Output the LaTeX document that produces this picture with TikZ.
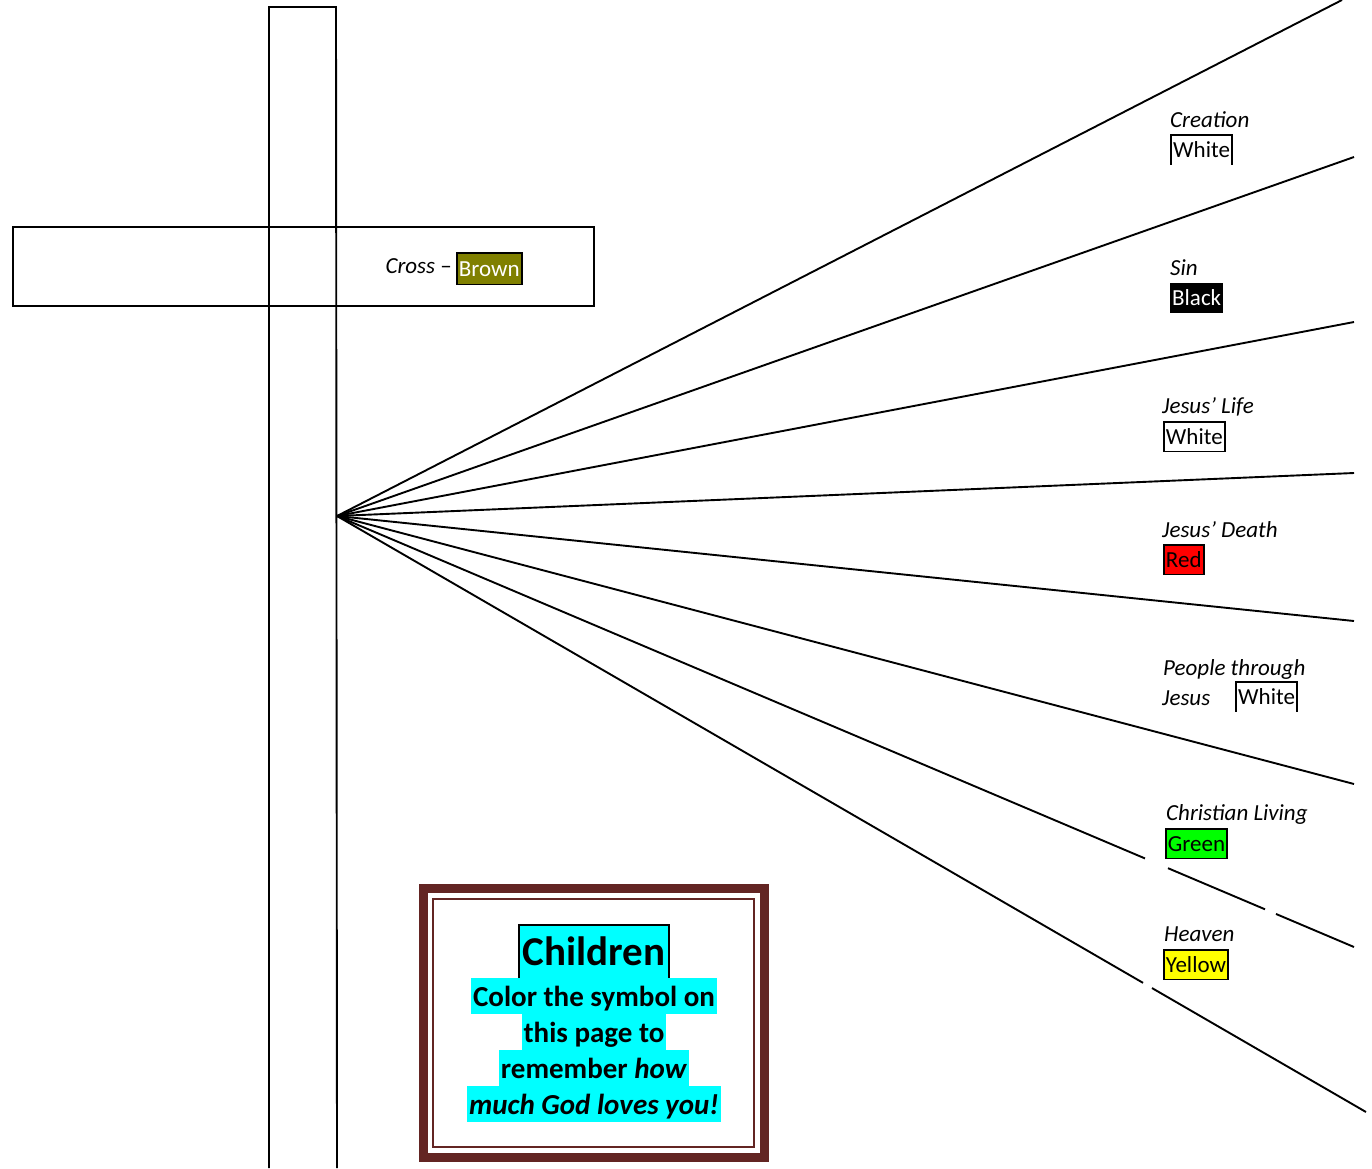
\documentclass[tikz,border=0pt]{standalone}
\usepackage{fontspec}
\setmainfont{Carlito}
\usetikzlibrary{calc}
\definecolor{framebrown}{HTML}{632523}
\definecolor{olivebrown}{HTML}{808000}
\definecolor{hlgreen}{HTML}{00FF00}
\definecolor{hlyellow}{HTML}{FFFF00}
\definecolor{hlred}{HTML}{FF0000}
\definecolor{hlcyan}{HTML}{00FFFF}
\tikzset{
  ln/.style={line width=1.9pt, line cap=butt},
  lbl/.style={inner sep=0pt, font=\fontsize{23}{28}\selectfont},
  cbox/.style={lbl, inner xsep=2pt, inner ysep=0.5pt, text height=22pt, text depth=6.5pt, anchor=north west},
  boxed/.style={cbox, draw=black, line width=1.9pt},
  kidline/.style={inner xsep=2pt, inner ysep=0.3pt, text height=27.6pt, text depth=7.8pt, fill=hlcyan, anchor=north, font=\fontsize{29}{35}\selectfont\bfseries},
}
\begin{document}
\begin{tikzpicture}[x=1pt,y=-1pt]
\useasboundingbox (0,0) rectangle (1372,1168);
% cross
\coordinate (vtl) at (269,7);
\coordinate (vtr) at (336,7);
\coordinate (vbl) at (269,1168);
\coordinate (vbr) at (337,1168);
\draw[ln] (vbl) -- (vtl) -- (vtr) -- (vbr);
\coordinate (htl) at (13,227);
\coordinate (hbr) at (594,306);
\draw[ln] (htl) rectangle (hbr);
% rays
\coordinate (o) at (337,516);
\coordinate (e1) at (1342,0);
\coordinate (e2) at (1354,157);
\coordinate (e3) at (1354,322);
\coordinate (e4) at (1354,473);
\coordinate (e5) at (1354,621);
\coordinate (e6) at (1354,784);
\coordinate (e7) at (1354,947);
\coordinate (e8) at (1366,1112);
\draw[ln] (o) -- (e1);
\draw[ln] (o) -- (e2);
\draw[ln] (o) -- (e3);
\draw[ln] (o) -- (e4);
\draw[ln] (o) -- (e5);
\draw[ln] (o) -- (e6);
\draw[ln] (o) -- ($(o)!0.7945!(e7)$);
\draw[ln] ($(o)!0.8171!(e7)$) -- ($(o)!0.9125!(e7)$);
\draw[ln] ($(o)!0.9233!(e7)$) -- (e7);
\draw[ln] (o) -- ($(o)!0.7833!(e8)$);
\draw[ln] ($(o)!0.7920!(e8)$) -- (e8);
% cross label
\node[lbl, anchor=base east] (crosst) at (452,273) {\textit{Cross} –};
\node[boxed, fill=olivebrown, text=white, inner ysep=1.5pt] (brown) at (456,252) {Brown};
% labels
\node[lbl, anchor=base west] (creation) at (1170,127) {\textit{Creation}};
\node[cbox] (white1) at (1171,135) {White};
\draw[ln] (white1.south west) -- (white1.north west) -- (white1.north east) -- (white1.south east);
\node[lbl, anchor=base west] (sin) at (1170,275) {\textit{Sin}};
\node[cbox, fill=black, text=white] (black) at (1170,283) {Black};
\node[lbl, anchor=base west] (life) at (1162,413) {\textit{Jesus’ Life}};
\node[boxed] (white2) at (1163,421) {White};
\node[lbl, anchor=base west] (death) at (1162,537) {\textit{Jesus’ Death}};
\node[boxed, fill=hlred] (red) at (1163,544) {Red};
\node[lbl, anchor=base west] (people) at (1163,675) {\textit{People through}};
\node[lbl, anchor=base west] (jesus) at (1162,705) {\textit{Jesus}};
\node[cbox] (white3) at (1236,682) {White};
\draw[ln] (white3.south west) -- (white3.north west) -- (white3.north east) -- (white3.south east);
\node[lbl, anchor=base west] (living) at (1166,820) {\textit{Christian Living}};
\node[boxed, fill=hlgreen] (green) at (1165,828) {Green};
\node[lbl, anchor=base west] (heaven) at (1164,941) {\textit{Heaven}};
\node[boxed, fill=hlyellow] (yellow) at (1163,949) {Yellow};
% children frame
\coordinate (fo1) at (423.5,888.5);
\coordinate (fo2) at (764.5,1157.5);
\draw[line width=9pt, draw=framebrown] (fo1) rectangle (fo2);
\coordinate (fi1) at (433,899);
\coordinate (fi2) at (754,1147);
\draw[line width=2pt, draw=framebrown] (fi1) rectangle (fi2);
\node[draw=black, line width=1.9pt, fill=hlcyan, inner xsep=3.5pt, inner ysep=2.5pt, text height=38pt, text depth=11pt, anchor=north, font=\fontsize{41}{48}\selectfont\bfseries] (children) at (594,924) {Children};
\node[kidline] (k1) at (594,978) {Color the symbol on};
\node[kidline] (k2) at (594,1014) {this page to};
\node[kidline] (k3) at (594,1050) {remember \textit{how}};
\node[kidline] (k4) at (594,1086) {\textit{much God loves you!}};
\end{tikzpicture}
\end{document}
